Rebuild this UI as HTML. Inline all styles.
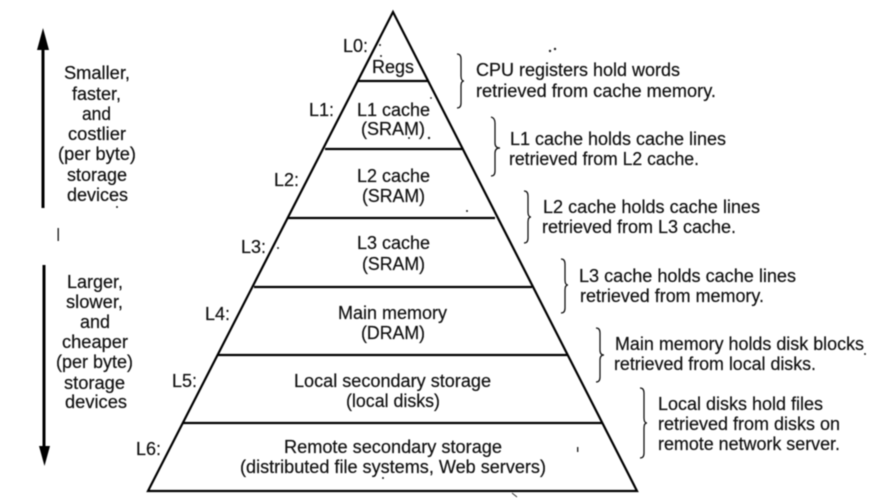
<!DOCTYPE html>
<html><head><meta charset="utf-8">
<style>
html,body{margin:0;padding:0;background:#fff;width:880px;height:499px;overflow:hidden}
svg{display:block;filter:blur(.5px)}
text{font-family:"Liberation Sans",sans-serif;font-size:18px;fill:#111;stroke:#111;stroke-width:.2}
.l{fill:none;stroke:#000;stroke-width:2.2}
.b{fill:none;stroke:#111;stroke-width:1.3}
</style></head><body>
<svg width="880" height="499" viewBox="0 0 880 499" xmlns="http://www.w3.org/2000/svg">
<path class="l" style="stroke-linejoin:miter" d="M393 12 L148 491 L637 491 Z"/>
<path class="l" d="M358 81H428M325 149H463M287 218H495M254 287H532M218 355H567M183 423H602"/>

<path d="M43 28L49 50H44.5V208H41.5V50H37Z" fill="#000"/>
<path d="M42.5 265H45.5V446H50L44.5 466L39 446H42.5Z" fill="#000"/>

<path class="b" d="M457 54Q461 54 461 59V76Q461 81 464 81Q461 81 461 86V103Q461 108 457 108"/>
<path class="b" d="M491 117Q495 118 495 123V143Q495 148 500 148Q495 148 495 153V171Q495 176 491 176"/>
<path class="b" d="M524 191Q528 191 528 196V212Q528 217 531 217Q528 217 528 222V238Q528 243 524 243"/>
<path class="b" d="M561 259Q565 259 565 264V280Q565 285 568 285Q565 285 565 290V308Q565 313 561 313"/>
<path class="b" d="M596 328Q600 328 600 333V350Q600 355 604 355Q600 355 600 360V377Q600 382 596 382"/>
<path class="b" d="M640 388Q644 388 644 393V418Q644 423 647 423Q644 423 644 428V453Q644 458 640 458"/>

<text x="64" y="79" textLength="66" lengthAdjust="spacingAndGlyphs">Smaller,</text>
<text x="72" y="100" textLength="49" lengthAdjust="spacingAndGlyphs">faster,</text>
<text x="82" y="120" textLength="29" lengthAdjust="spacingAndGlyphs">and</text>
<text x="68" y="140" textLength="58" lengthAdjust="spacingAndGlyphs">costlier</text>
<text x="58" y="160" textLength="78" lengthAdjust="spacingAndGlyphs">(per byte)</text>
<text x="67" y="181" textLength="60" lengthAdjust="spacingAndGlyphs">storage</text>
<text x="67" y="201" textLength="61" lengthAdjust="spacingAndGlyphs">devices</text>

<text x="67" y="288" textLength="56" lengthAdjust="spacingAndGlyphs">Larger,</text>
<text x="66" y="308" textLength="57" lengthAdjust="spacingAndGlyphs">slower,</text>
<text x="80" y="328" textLength="30" lengthAdjust="spacingAndGlyphs">and</text>
<text x="62" y="348" textLength="66" lengthAdjust="spacingAndGlyphs">cheaper</text>
<text x="56" y="368" textLength="77" lengthAdjust="spacingAndGlyphs">(per byte)</text>
<text x="64" y="389" textLength="61" lengthAdjust="spacingAndGlyphs">storage</text>
<text x="65" y="408" textLength="62" lengthAdjust="spacingAndGlyphs">devices</text>

<text x="343" y="52" textLength="25" lengthAdjust="spacingAndGlyphs">L0:</text>
<text x="309" y="116" textLength="25" lengthAdjust="spacingAndGlyphs">L1:</text>
<text x="274" y="186" textLength="25" lengthAdjust="spacingAndGlyphs">L2:</text>
<text x="241" y="253" textLength="25" lengthAdjust="spacingAndGlyphs">L3:</text>
<text x="205" y="320" textLength="25" lengthAdjust="spacingAndGlyphs">L4:</text>
<text x="172" y="387" textLength="25" lengthAdjust="spacingAndGlyphs">L5:</text>
<text x="136" y="455" textLength="25" lengthAdjust="spacingAndGlyphs">L6:</text>

<text x="372" y="73" textLength="42" lengthAdjust="spacingAndGlyphs">Regs</text>
<text x="357" y="116" textLength="73" lengthAdjust="spacingAndGlyphs">L1 cache</text>
<text x="361" y="135" textLength="64" lengthAdjust="spacingAndGlyphs">(SRAM)</text>
<text x="357" y="182" textLength="73" lengthAdjust="spacingAndGlyphs">L2 cache</text>
<text x="362" y="202" textLength="63" lengthAdjust="spacingAndGlyphs">(SRAM)</text>
<text x="357" y="249" textLength="73" lengthAdjust="spacingAndGlyphs">L3 cache</text>
<text x="362" y="270" textLength="63" lengthAdjust="spacingAndGlyphs">(SRAM)</text>
<text x="338" y="319" textLength="109" lengthAdjust="spacingAndGlyphs">Main memory</text>
<text x="361" y="339" textLength="64" lengthAdjust="spacingAndGlyphs">(DRAM)</text>
<text x="294" y="387" textLength="197" lengthAdjust="spacingAndGlyphs">Local secondary storage</text>
<text x="346" y="407" textLength="94" lengthAdjust="spacingAndGlyphs">(local disks)</text>
<text x="284" y="453" textLength="218" lengthAdjust="spacingAndGlyphs">Remote secondary storage</text>
<text x="240" y="473" textLength="306" lengthAdjust="spacingAndGlyphs">(distributed file systems, Web servers)</text>

<text x="476" y="76" textLength="204" lengthAdjust="spacingAndGlyphs">CPU registers hold words</text>
<text x="476" y="97" textLength="240" lengthAdjust="spacingAndGlyphs">retrieved from cache memory.</text>
<text x="510" y="145" textLength="216" lengthAdjust="spacingAndGlyphs">L1 cache holds cache lines</text>
<text x="509" y="165" textLength="190" lengthAdjust="spacingAndGlyphs">retrieved from L2 cache.</text>
<text x="543" y="213" textLength="217" lengthAdjust="spacingAndGlyphs">L2 cache holds cache lines</text>
<text x="542" y="233" textLength="194" lengthAdjust="spacingAndGlyphs">retrieved from L3 cache.</text>
<text x="579" y="282" textLength="217" lengthAdjust="spacingAndGlyphs">L3 cache holds cache lines</text>
<text x="580" y="302" textLength="184" lengthAdjust="spacingAndGlyphs">retrieved from memory.</text>
<text x="615" y="350" textLength="249" lengthAdjust="spacingAndGlyphs">Main memory holds disk blocks</text>
<text x="614" y="370" textLength="202" lengthAdjust="spacingAndGlyphs">retrieved from local disks.</text>
<text x="658" y="410" textLength="165" lengthAdjust="spacingAndGlyphs">Local disks hold files</text>
<text x="658" y="430" textLength="182" lengthAdjust="spacingAndGlyphs">retrieved from disks on</text>
<text x="658" y="450" textLength="182" lengthAdjust="spacingAndGlyphs">remote network server.</text>

<g fill="#222">
<circle cx="117" cy="207" r="1"/>
<rect x="57.5" y="228" width="1.4" height="13"/>
<circle cx="550" cy="51" r="1.2"/><circle cx="555" cy="49" r="1.2"/>
<circle cx="380" cy="45" r="1"/><circle cx="381" cy="56" r="1"/>
<circle cx="431" cy="98" r=".9"/><circle cx="429" cy="138" r="1.2"/><circle cx="409" cy="138" r="1"/>
<circle cx="467" cy="211" r="1"/>
<circle cx="278" cy="248" r="1"/>
<rect x="577" y="447" width="1.4" height="5"/>
<circle cx="865" cy="354" r="1"/>
<circle cx="383" cy="478" r="1"/>
<path d="M512 493L517 497" stroke="#333" fill="none"/>
</g>
</svg>
</body></html>
